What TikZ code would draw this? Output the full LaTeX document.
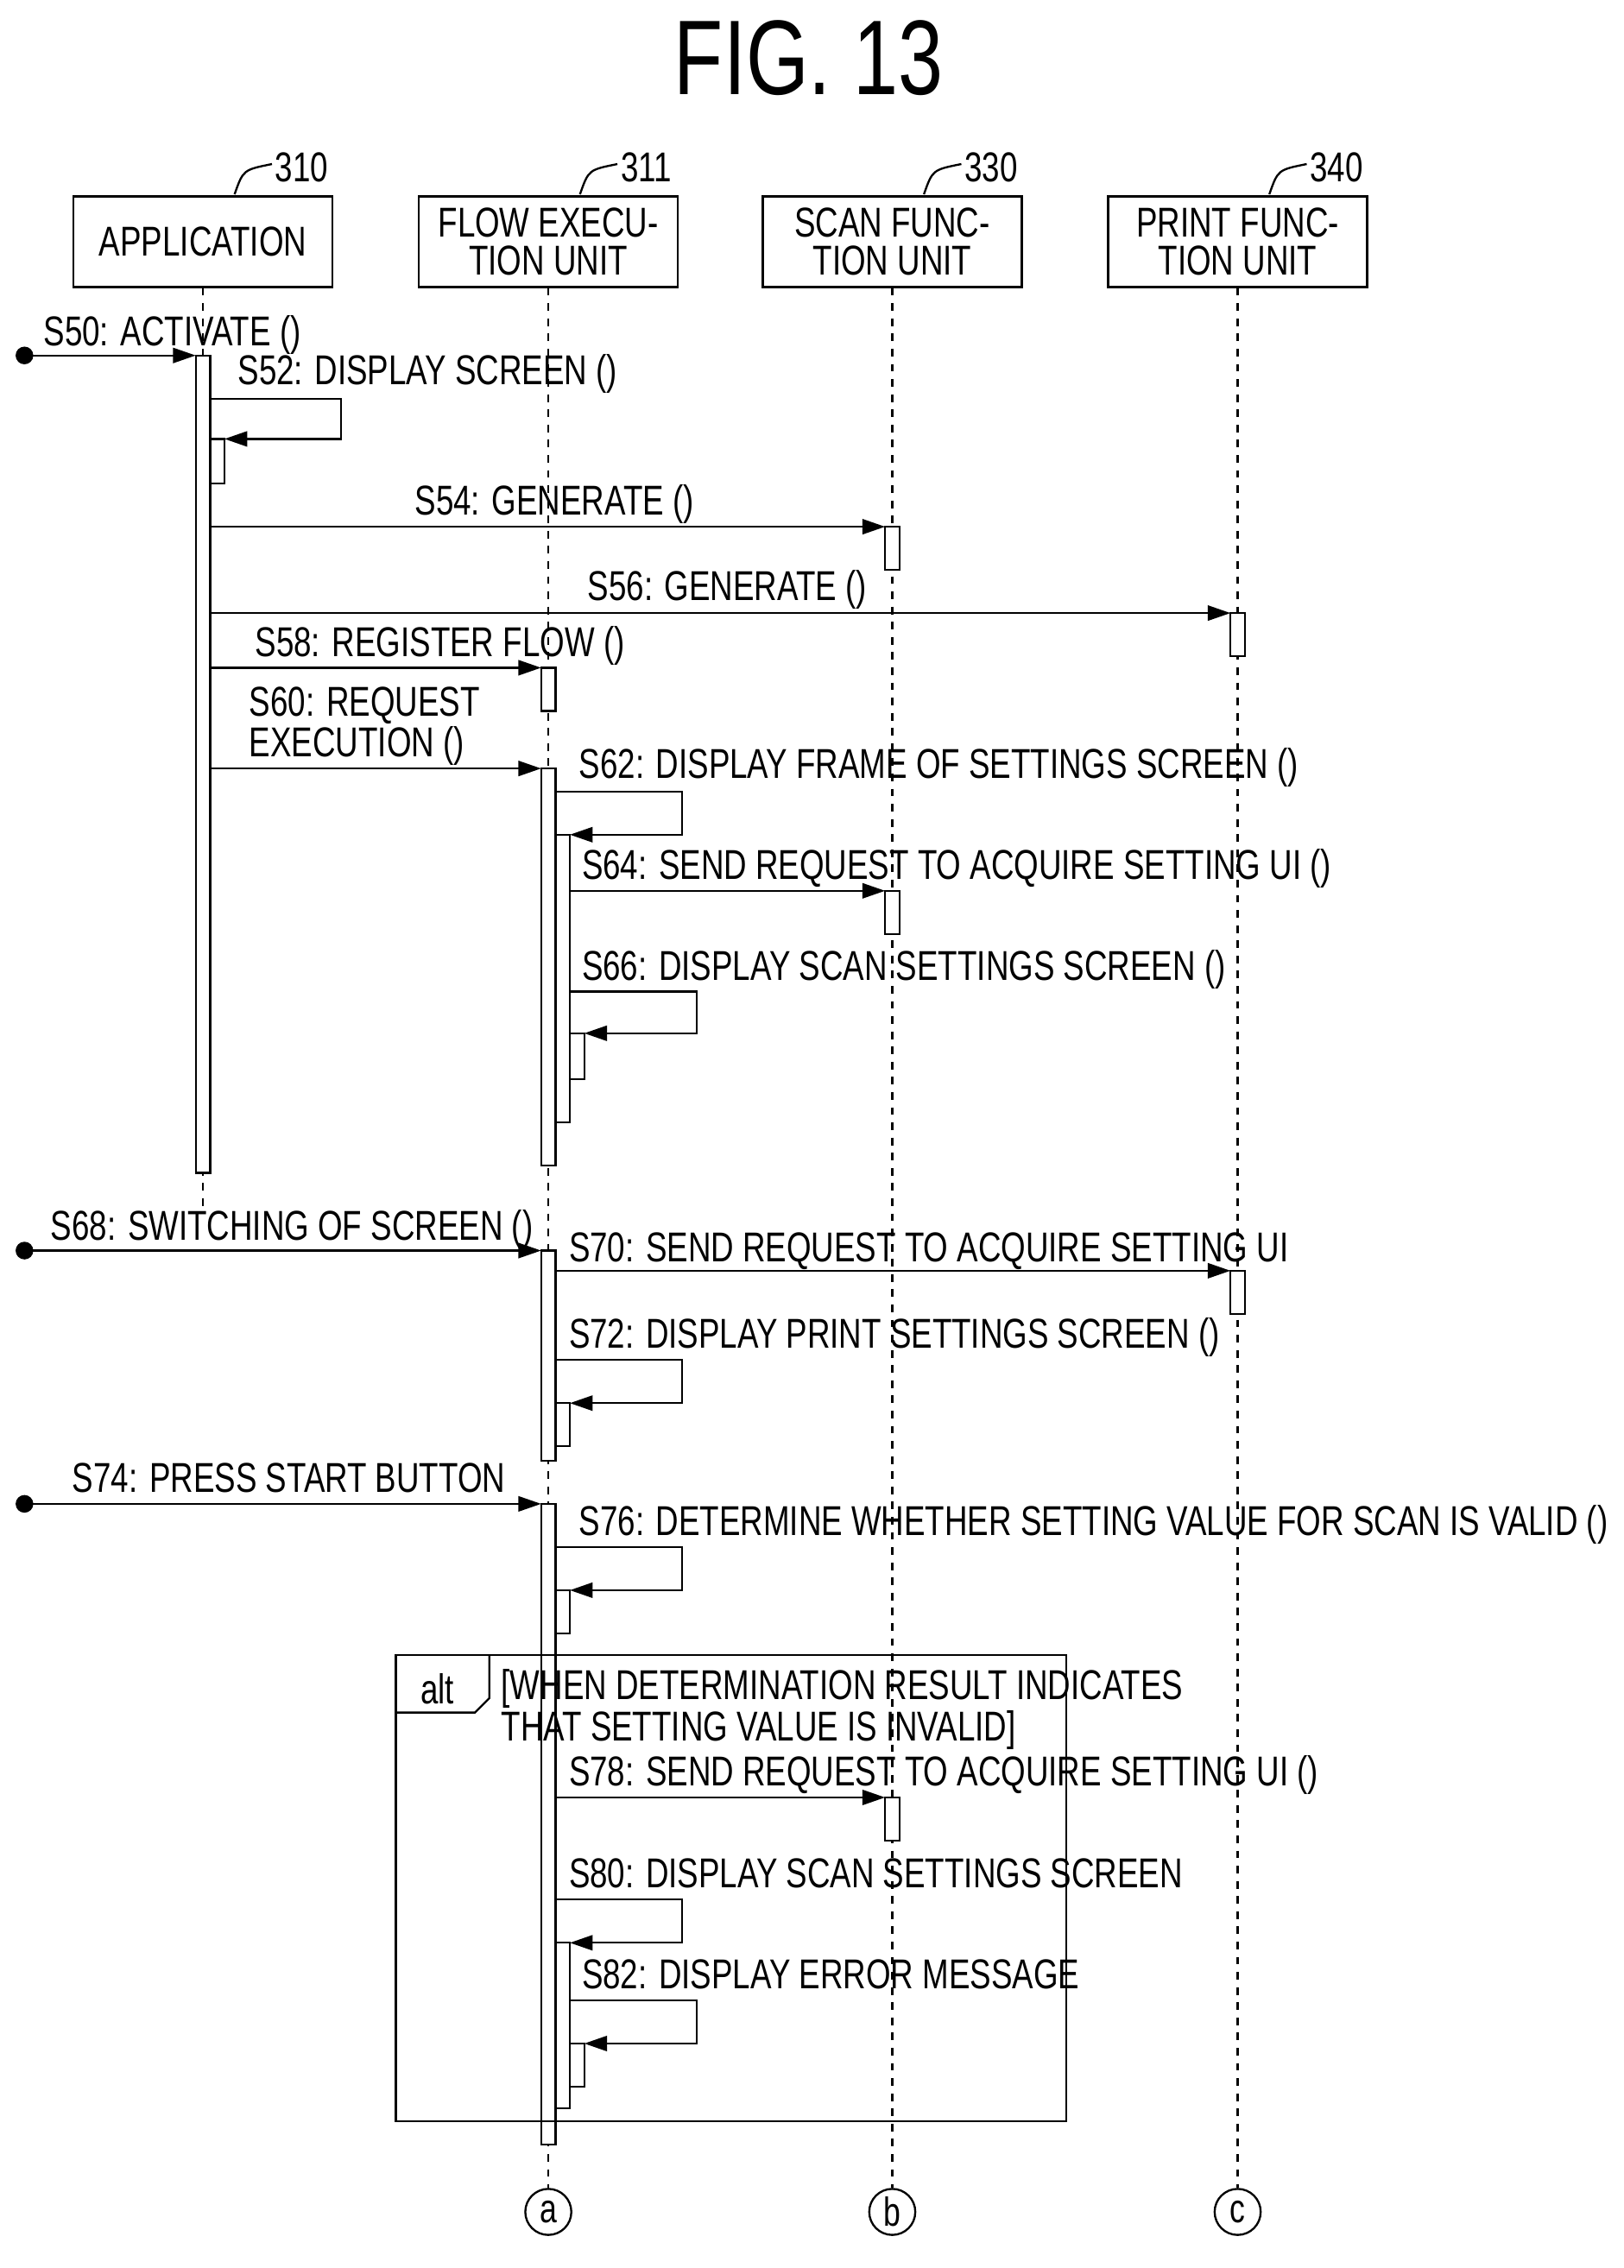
\documentclass[tikz,border=0pt]{standalone}
\usepackage{fontspec}
\setmainfont{Liberation Sans}[FakeStretch=0.76]
\usetikzlibrary{arrows.meta}
\begin{document}
\begin{tikzpicture}[x=0.02cm, y=-0.02cm, > = {Triangle[length=9pt,width=6pt]},
    obj/.style = {draw, thick, minimum width=3.6cm, minimum height=1.26cm, align=center, inner sep=0pt, font=\fontsize{16.5}{15}\selectfont},
    lbl/.style = {anchor=base west, inner sep=0pt, font=\fontsize{16.5}{14.8}\selectfont, align=left},
    lbl2/.style = {lbl, anchor=south west},
    life/.style = {dashed, thick},
    bar/.style = {draw, thick, fill=white},
    msg/.style = {->, thick},
    term/.style = {draw, circle, thick, inner sep=1pt, minimum size=0.64cm, font=\fontsize{16}{17}\selectfont}]

    \useasboundingbox (0,0) rectangle (1128,1576);
    \node at (562,40) {\fontsize{42}{46}\selectfont FIG. 13};

    % Objects and their lifelines.
    \node[obj] (app) at (141,168) {APPLICATION};
    \node[obj] (flow) at (381,168) {FLOW EXECU-\\TION UNIT};
    \node[obj] (scan) at (620,168) {SCAN FUNC-\\TION UNIT};
    \node[obj] (print) at (860,168) {PRINT FUNC-\\TION UNIT};
    \node[term] (ca) at (381,1537) {a};
    \node[term] (cb) at (620,1537) {b};
    \node[term] (cc) at (860,1537) {c};
    \coordinate (append) at (141,840);
    \draw[life] (app) -- (append);
    \draw[life] (flow) -- (ca);
    \draw[life] (scan) -- (cb);
    \draw[life] (print) -- (cc);

    % Reference numerals.
    \foreach \x/\n in {141/310, 381/311, 620/330, 860/340} {
        \draw[thick] (\x+22,135) .. controls (\x+28,118) .. (\x+48,114);
        \node[lbl] at (\x+50,126) {\n};
    }

    % Activation bars.
    \draw[bar] (136,247) rectangle (146,815);
    \draw[bar] (146,305) rectangle (156,336);
    \draw[bar] (615,366) rectangle (625,396);
    \draw[bar] (855,426) rectangle (865,456);
    \draw[bar] (376,464) rectangle (386,494);
    \draw[bar] (376,534) rectangle (386,810);
    \draw[bar] (386,580) rectangle (396,780);
    \draw[bar] (615,619) rectangle (625,649);
    \draw[bar] (396,718) rectangle (406,750);
    \draw[bar] (376,869) rectangle (386,1015);
    \draw[bar] (855,883) rectangle (865,913);
    \draw[bar] (386,975) rectangle (396,1005);
    \draw[bar] (376,1045) rectangle (386,1490);
    \draw[bar] (386,1105) rectangle (396,1135);
    \draw[bar] (615,1249) rectangle (625,1279);
    \draw[bar] (386,1350) rectangle (396,1465);
    \draw[bar] (396,1420) rectangle (406,1450);

    % Found messages.
    \foreach \y/\xe in {247/136, 869/376, 1045/376} {
        \fill (17,\y) circle (3.5pt);
        \draw[msg] (17,\y) -- (\xe,\y);
    }

    % Messages.
    \draw[msg] (146,366) -- (615,366);
    \draw[msg] (146,426) -- (855,426);
    \draw[msg] (146,464) -- (376,464);
    \draw[msg] (146,534) -- (376,534);
    \draw[msg] (396,619) -- (615,619);
    \draw[msg] (386,883) -- (855,883);
    \draw[msg] (386,1249) -- (615,1249);

    % Self calls.
    \draw[msg] (146,277) -- (237,277) -- (237,305) -- (156,305);
    \draw[msg] (386,550) -- (474,550) -- (474,580) -- (396,580);
    \draw[msg] (396,689) -- (484,689) -- (484,718) -- (406,718);
    \draw[msg] (386,945) -- (474,945) -- (474,975) -- (396,975);
    \draw[msg] (386,1075) -- (474,1075) -- (474,1105) -- (396,1105);
    \draw[msg] (386,1320) -- (474,1320) -- (474,1350) -- (396,1350);
    \draw[msg] (396,1390) -- (484,1390) -- (484,1420) -- (406,1420);

    % The alt fragment.
    \draw[thick] (275,1150) rectangle (741,1474);
    \draw[thick] (275,1190) -- (330,1190) -- (340,1180) -- (340,1150);
    \node[lbl] at (292,1184) {alt};
    \node[lbl2] at (348,1216) {[WHEN DETERMINATION RESULT INDICATES\\THAT SETTING VALUE IS INVALID]};

    % Message labels.
    \node[lbl] at (30,240) {S50: ACTIVATE ()};
    \node[lbl] at (165,267) {S52: DISPLAY SCREEN ()};
    \node[lbl] at (288,358) {S54: GENERATE ()};
    \node[lbl] at (408,417) {S56: GENERATE ()};
    \node[lbl] at (177,456) {S58: REGISTER FLOW ()};
    \node[lbl2] at (173,532) {S60: REQUEST\\EXECUTION ()};
    \node[lbl] at (402,541) {S62: DISPLAY FRAME OF SETTINGS SCREEN ()};
    \node[lbl] at (404,611) {S64: SEND REQUEST TO ACQUIRE SETTING UI ()};
    \node[lbl] at (404,681) {S66: DISPLAY SCAN SETTINGS SCREEN ()};
    \node[lbl] at (35,862) {S68: SWITCHING OF SCREEN ()};
    \node[lbl] at (395,877) {S70: SEND REQUEST TO ACQUIRE SETTING UI};
    \node[lbl] at (395,937) {S72: DISPLAY PRINT SETTINGS SCREEN ()};
    \node[lbl] at (50,1037) {S74: PRESS START BUTTON};
    \node[lbl] at (402,1067) {S76: DETERMINE WHETHER SETTING VALUE FOR SCAN IS VALID ()};
    \node[lbl] at (395,1241) {S78: SEND REQUEST TO ACQUIRE SETTING UI ()};
    \node[lbl] at (395,1312) {S80: DISPLAY SCAN SETTINGS SCREEN};
    \node[lbl] at (404,1382) {S82: DISPLAY ERROR MESSAGE};
\end{tikzpicture}
\end{document}
